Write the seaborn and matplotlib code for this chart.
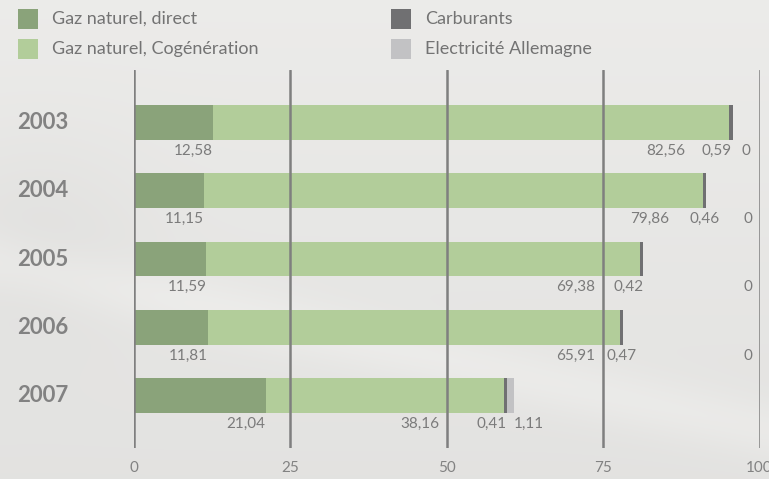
import numpy as np
import pandas as pd
import matplotlib
matplotlib.use("Agg")
import matplotlib.pyplot as plt
import matplotlib.transforms as mtransforms
from matplotlib.patches import Rectangle
import seaborn as sns

# Energy consumption breakdown (%) per year
years = ["2003", "2004", "2005", "2006", "2007"]
gaz_direct = [12.58, 11.15, 11.59, 11.81, 21.04]
gaz_cogeneration = [82.56, 79.86, 69.38, 65.91, 38.16]
carburants = [0.59, 0.46, 0.42, 0.47, 0.41]
electricite_allemagne = [0.0, 0.0, 0.0, 0.0, 1.11]

series_names = ["Gaz naturel, direct", "Gaz naturel, Cogénération",
                "Carburants", "Electricité Allemagne"]
x_ticks = [0, 25, 50, 75, 100]

# Right edges (in % units) where the value labels of the later series sit
cogen_label_right = [88.1, 85.5, 73.7, 73.7, 48.8]
carb_label_right = [95.6, 93.7, 81.4, 80.4, 59.6]
elec_label_right = [98.6, 98.8, 98.8, 98.8, 65.5]

C_DIRECT = "#8aa37a"
C_COGEN = "#b2cd9a"
C_CARB = "#707072"
C_ELEC = "#c2c2c4"
TXT = "#7b7b7b"

df = pd.DataFrame({
    "Année": years,
    "direct": gaz_direct,
    "cogen": gaz_cogeneration,
    "carb": carburants,
    "elec": electricite_allemagne,
})
df["c1"] = df["direct"]
df["c2"] = df["c1"] + df["cogen"]
df["c3"] = df["c2"] + df["carb"]
df["c4"] = df["c3"] + df["elec"]

sns.set_theme(style="white")
plt.rcParams["font.family"] = ["Lato", "DejaVu Sans"]

W, H = 769, 479
fig = plt.figure(figsize=(W / 100, H / 100), dpi=100)
fig.patch.set_facecolor("#e5e4e2")

# Soft grey backdrop
bg = fig.add_axes([0, 0, 1, 1], zorder=-10)
yy, xx = np.mgrid[0:1:240j, 0:1:385j]
shade = 0.925 - 0.035 * yy - 0.02 * np.exp(-((xx - 0.05) ** 2 / 0.02 + (yy - 0.5) ** 2 / 0.05))
stripe = np.exp(-((yy - (0.55 + 0.35 * xx)) ** 2) / 0.004)
shade = shade + 0.025 * stripe
bg.imshow(np.dstack([shade, shade * 0.998, shade * 0.99]), aspect="auto",
          extent=[0, 1, 0, 1], interpolation="bilinear")
bg.set_axis_off()

ax = fig.add_axes([134 / W, (H - 448) / H, 625.5 / W, 378 / H])
ax.patch.set_alpha(0)

bar_w = 0.51
for col, color in [("c4", C_ELEC), ("c3", C_CARB), ("c2", C_COGEN), ("c1", C_DIRECT)]:
    sns.barplot(data=df, x=col, y="Année", order=years, orient="h",
                color=color, width=bar_w, saturation=1, ax=ax,
                linewidth=0, zorder=2)

ax.set_xlim(0, 100)
ax.set_ylim(4.77, -0.77)
for s in ax.spines.values():
    s.set_visible(False)
ax.set_xlabel("")
ax.set_ylabel("")
ax.set_yticks([])
ax.set_xticks(x_ticks)
ax.set_xticklabels([str(t) for t in x_ticks])
ax.tick_params(axis="x", length=0, pad=9, labelsize=11, labelcolor="#828282")

for t in x_ticks:
    ax.axvline(t, color="#7f7f7f", lw=1.8, zorder=5)

# Value labels under each bar
lab_dy = 0.415
fs = 11
for i, yr in enumerate(years):
    y = i + lab_dy
    ax.text(df["c1"][i], y, f"{gaz_direct[i]:.2f}".replace(".", ","),
            ha="right", va="center", fontsize=fs, color=TXT, zorder=6)
    ax.text(cogen_label_right[i], y, f"{gaz_cogeneration[i]:.2f}".replace(".", ","),
            ha="right", va="center", fontsize=fs, color=TXT, zorder=6)
    ax.text(carb_label_right[i], y, f"{carburants[i]:.2f}".replace(".", ","),
            ha="right", va="center", fontsize=fs, color=TXT, zorder=6)
    ev = electricite_allemagne[i]
    etxt = "0" if ev == 0 else f"{ev:.2f}".replace(".", ",")
    ax.text(elec_label_right[i], y, etxt,
            ha="right", va="center", fontsize=fs, color=TXT, zorder=6)

# Year labels on the left
ytrans = mtransforms.blended_transform_factory(fig.transFigure, ax.transData)
for i, yr in enumerate(years):
    ax.text(17 / W, i, yr, transform=ytrans, ha="left", va="center",
            fontsize=16, fontweight="bold", color="#828282")

# Legend
legend_items = [
    (series_names[0], C_DIRECT, 18, 19),
    (series_names[1], C_COGEN, 18, 49),
    (series_names[2], C_CARB, 391, 19),
    (series_names[3], C_ELEC, 391, 49),
]
for name, color, x0, yc in legend_items:
    fig.add_artist(Rectangle((x0 / W, (H - yc - 10) / H), 20 / W, 20 / H,
                             transform=fig.transFigure, facecolor=color,
                             edgecolor="none"))
    fig.text((x0 + 34) / W, (H - yc) / H, name, ha="left", va="center",
             fontsize=13, color="#737373")

fig.savefig("out.png", dpi=100, facecolor=fig.get_facecolor())
